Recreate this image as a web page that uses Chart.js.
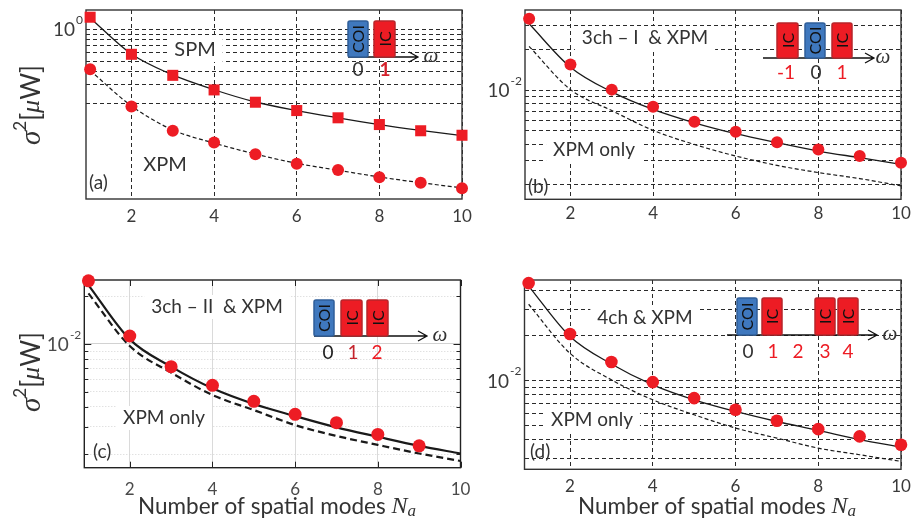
<!DOCTYPE html>
<html lang="en">
<head>
  <meta charset="UTF-8" />
  <title>Noise variance vs number of spatial modes</title>
  <script src="https://cdn.jsdelivr.net/npm/chart.js"></script>
  <style>
    html, body { margin: 0; padding: 0; background: #fff; }
    body { width: 912px; height: 525px; position: relative; overflow: hidden; }
    .panel { position: absolute; left: 0; top: 0; width: 912px; height: 525px; }
  </style>
</head>
<body>
  <div class="panel"><canvas id="chartA"></canvas></div>
  <div class="panel"><canvas id="chartB"></canvas></div>
  <div class="panel"><canvas id="chartC"></canvas></div>
  <div class="panel"><canvas id="chartD"></canvas></div>
  <script>
    // x values and ticks
    const modes = [1, 2, 3, 4, 5, 6, 7, 8, 9, 10];
    const xTicks = [2, 4, 6, 8, 10];

    // (a) SPM / XPM
    const spmMarkA = [1.30, 0.582, 0.369, 0.269, 0.206, 0.172, 0.147, 0.127, 0.111, 0.1007];
    const spmLineA = [1.28, 0.585, 0.372, 0.270, 0.207, 0.172, 0.147, 0.127, 0.112, 0.100];
    const xpmMarkA = [0.421, 0.1875, 0.111, 0.0859, 0.0668, 0.0542, 0.0475, 0.0406, 0.0359, 0.032];
    const xpmLineA = [0.410, 0.190, 0.113, 0.0850, 0.0670, 0.0548, 0.0472, 0.0408, 0.0360, 0.0322];
    const gridA = [0.2, 0.3, 0.4, 0.5, 0.6, 0.7, 0.8, 0.9, 1];

    // (b) 3ch-I
    const markB = [0.0338, 0.0155, 0.0101, 0.00754, 0.00585, 0.00493, 0.00413, 0.00365, 0.00326, 0.00291];
    const lineB = [0.0310, 0.0148, 0.00973, 0.00721, 0.00574, 0.00477, 0.00409, 0.00355, 0.00317, 0.00283];
    const xpmLineB = [0.0211, 0.0101, 0.00707, 0.00505, 0.00397, 0.00326, 0.00278, 0.00246, 0.00222, 0.00196];
    const gridB = [0.002, 0.003, 0.004, 0.005, 0.006, 0.007, 0.008, 0.009, 0.01, 0.02, 0.03];

    // (c) 3ch-II
    const markC = [0.0251, 0.01124, 0.00719, 0.00548, 0.00434, 0.00359, 0.00318, 0.00268, 0.00227];
    const lineC = [0.0236, 0.0107, 0.00719, 0.00524, 0.00417, 0.0035, 0.00297, 0.00259, 0.00227, 0.00203];
    const xpmLineC = [0.0209, 0.00971, 0.00659, 0.00476, 0.00382, 0.00307, 0.00262, 0.0023, 0.00203, 0.00182];
    const majorC = [0.01];
    const minorC = [0.002, 0.003, 0.004, 0.005, 0.006, 0.007, 0.008, 0.009, 0.02];

    // (d) 4ch
    const markD = [0.0449, 0.0205, 0.0133, 0.00975, 0.00762, 0.00637, 0.00537, 0.00472, 0.00422, 0.00371];
    const lineD = [0.0429, 0.0197, 0.0129, 0.00935, 0.00742, 0.0062, 0.00531, 0.00463, 0.00401, 0.00358];
    const xpmLineD = [0.0324, 0.0152, 0.0101, 0.00742, 0.00589, 0.0048, 0.00411, 0.00352, 0.00318, 0.00287];
    const gridD = [0.003, 0.004, 0.005, 0.006, 0.007, 0.008, 0.009, 0.01, 0.02, 0.03, 0.04];

    const RED = '#ed1c24';
    const SANS = 'Lato, "Open Sans", sans-serif';
    const SERIF = '"Liberation Serif", "DejaVu Serif", serif';

    const pts = (arr) => arr.map((v, i) => ({ x: modes[i], y: v }));

    function richText(ctx, parts, cx, cy, color) {
      let w = 0;
      parts.forEach(p => { ctx.font = p.f; p.w = ctx.measureText(p.t).width; w += p.w; });
      let x = cx - w / 2;
      ctx.fillStyle = color;
      ctx.textAlign = 'left';
      ctx.textBaseline = 'middle';
      parts.forEach(p => { ctx.font = p.f; ctx.fillText(p.t, x, cy + (p.dy || 0)); x += p.w; });
    }

    const panelPlugin = {
      id: 'panel',
      beforeDatasetsDraw(chart, args, o) {
        const ctx = chart.ctx, a = chart.chartArea;
        ctx.save();
        // notes, with white background over the grid
        (o.notes || []).forEach(n => {
          ctx.font = n.font || ('19px ' + SANS);
          const w = ctx.measureText(n.text).width;
          const left = n.align === 'left' ? n.x : n.x - w / 2;
          if (n.bg) {
            ctx.fillStyle = '#fff';
            ctx.fillRect(left - 7, n.y - 12, w + 14, 24);
          }
          ctx.fillStyle = '#333';
          ctx.textAlign = 'left';
          ctx.textBaseline = 'middle';
          ctx.fillText(n.text, left, n.y);
        });
        // inward tick marks
        if (o.ticksIn) {
          const y = chart.scales.y;
          ctx.strokeStyle = '#222';
          ctx.lineWidth = 1;
          ctx.beginPath();
          o.ticksIn.forEach(v => {
            const py = Math.round(y.getPixelForValue(v)) + 0.5;
            const len = majorC.includes(v) ? 7 : 4;
            ctx.moveTo(a.left, py); ctx.lineTo(a.left + len, py);
            ctx.moveTo(a.right, py); ctx.lineTo(a.right - len, py);
          });
          xTicks.forEach(v => {
            const px = Math.round(chart.scales.x.getPixelForValue(v)) + 0.5;
            ctx.moveTo(px, a.bottom); ctx.lineTo(px, a.bottom - 6);
            ctx.moveTo(px, a.top); ctx.lineTo(px, a.top + 6);
          });
          ctx.stroke();
        }
        // box frame
        ctx.strokeStyle = o.frameColor || '#333';
        ctx.lineWidth = 1.4;
        ctx.strokeRect(a.left, a.top, a.right - a.left, a.bottom - a.top);
        ctx.restore();
      },
      afterDraw(chart, args, o) {
        const ctx = chart.ctx, a = chart.chartArea;
        ctx.save();
        // x tick labels
        ctx.fillStyle = o.tickColor || '#3a3a3a';
        ctx.font = '17px ' + SANS;
        ctx.textAlign = 'center';
        ctx.textBaseline = 'middle';
        xTicks.forEach(v => ctx.fillText(String(v), chart.scales.x.getPixelForValue(v), a.bottom + o.tickDy));
        // decade label on y
        const py = chart.scales.y.getPixelForValue(o.decade);
        ctx.font = '12px ' + SANS;
        const ew = ctx.measureText(o.exp).width;
        ctx.textAlign = 'right';
        ctx.fillText(o.exp, a.left - 3, py - 9);
        ctx.font = '19px ' + SANS;
        ctx.fillText('10', a.left - 4 - ew, py + 1);

        // axis titles
        if (o.yTitle) {
          ctx.save();
          ctx.translate(o.yTitle[0], o.yTitle[1]);
          ctx.rotate(-Math.PI / 2);
          richText(ctx, [
            { t: 'σ', f: 'italic 29px ' + SERIF },
            { t: '2', f: '17px ' + SANS, dy: -11 },
            { t: '[', f: '26px ' + SANS },
            { t: 'μ', f: 'italic 26px ' + SERIF },
            { t: 'W]', f: '26px ' + SANS }
          ], 0, 0, '#333');
          ctx.restore();
        }
        if (o.xTitle) {
          richText(ctx, [
            { t: 'Number of spatial modes ', f: '22.5px ' + SANS },
            { t: 'N', f: 'italic 24px ' + SERIF },
            { t: 'a', f: 'italic 17px ' + SERIF, dy: 5 }
          ], o.xTitle[0], o.xTitle[1], '#333');
        }

        // channel inset
        const ins = o.inset;
        if (ins) {
          ctx.strokeStyle = '#111';
          ctx.lineWidth = 1.3;
          ctx.beginPath();
          ctx.moveTo(ins.from, ins.bottom);
          ctx.lineTo(ins.to, ins.bottom);
          ctx.moveTo(ins.to - 9, ins.bottom - 5);
          ctx.lineTo(ins.to, ins.bottom);
          ctx.lineTo(ins.to - 9, ins.bottom + 5);
          ctx.stroke();
          ins.boxes.forEach(b => {
            const coi = b.t === 'COI';
            ctx.fillStyle = coi ? '#3f78be' : '#ed1c24';
            ctx.strokeStyle = coi ? '#2f5e99' : '#b8242a';
            ctx.lineWidth = 1.5;
            ctx.beginPath();
            ctx.roundRect(b.x, ins.top, b.w, ins.bottom - ins.top, 2);
            ctx.fill();
            ctx.stroke();
            ctx.save();
            ctx.translate(b.x + b.w / 2, (ins.top + ins.bottom) / 2);
            ctx.rotate(-Math.PI / 2);
            ctx.fillStyle = '#111';
            ctx.font = '16px ' + SANS;
            ctx.textAlign = 'center';
            ctx.textBaseline = 'middle';
            ctx.fillText(b.t, 0, 1);
            ctx.restore();
          });
          ctx.fillStyle = '#333';
          ctx.font = 'italic 21px ' + SERIF;
          ctx.textAlign = 'center';
          ctx.textBaseline = 'middle';
          ctx.fillText('ω', ins.omega, ins.bottom - 1);
          ins.labels.forEach(l => {
            ctx.fillStyle = l.c;
            ctx.font = (l.bold ? 'bold ' : '') + '19px ' + SANS;
            ctx.fillText(l.t, l.x, ins.labelY);
          });
        }
        ctx.restore();
      }
    };

    function xScale(gridColor, dash) {
      return {
        type: 'linear', min: 0.9, max: 10,
        afterBuildTicks: s => { s.ticks = xTicks.map(v => ({ value: v })); },
        afterFit: s => { s.height = 0; },
        ticks: { display: false },
        grid: { color: gridColor, lineWidth: 1, drawTicks: false },
        border: { display: false, dash: dash }
      };
    }

    function yScale(min, max, grid, gridColor, dash, position) {
      return {
        type: 'logarithmic', min: min, max: max, position: position || 'left',
        afterBuildTicks: s => { s.ticks = grid.map(v => ({ value: v })); },
        afterFit: s => { s.width = 0; },
        ticks: { display: false },
        grid: { color: gridColor, lineWidth: 1, drawTicks: false },
        border: { display: false, dash: dash }
      };
    }

    function markSet(values, style, radius) {
      return {
        data: pts(values), showLine: false, pointStyle: style, pointRadius: radius,
        pointBackgroundColor: RED, pointBorderWidth: 0, order: 0, clip: false
      };
    }

    function lineSet(values, width, dash) {
      return {
        data: pts(values), pointRadius: 0, borderColor: '#1a1a1a', borderWidth: width,
        borderDash: dash || [], cubicInterpolationMode: 'monotone', order: 1, clip: false
      };
    }

    function makeChart(id, area, datasets, scales, panel) {
      return new Chart(document.getElementById(id), {
        type: 'line',
        data: { datasets: datasets },
        options: {
          responsive: true,
          maintainAspectRatio: false,
          animation: false,
          events: [],
          layout: { padding: { left: area[0], top: area[1], right: 912 - area[2], bottom: 525 - area[3] } },
          scales: scales,
          plugins: { legend: { display: false }, tooltip: { enabled: false }, panel: panel }
        },
        plugins: [panelPlugin]
      });
    }

    const DASH = [4, 3];
    const LABEL = '19px ' + SANS;

    makeChart('chartA', [86, 10, 462, 199],
      [markSet(spmMarkA, 'rect', 7.8), markSet(xpmMarkA, 'circle', 6),
       lineSet(spmLineA, 1.3), lineSet(xpmLineA, 1.2, [4, 2.5])],
      { x: xScale('#2a2a2a', DASH), y: yScale(0.0253, 1.52, gridA, '#2a2a2a', DASH) },
      {
        tickDy: 17.5, decade: 1, exp: '0', yTitle: [32, 105],
        notes: [
          { text: 'SPM', x: 195, y: 50, bg: true, font: '20px ' + SANS },
          { text: 'XPM', x: 165, y: 165, bg: true, font: '20px ' + SANS },
          { text: '(a)', x: 89, y: 183, align: 'left', font: LABEL }
        ],
        inset: {
          top: 21, bottom: 57, from: 348, to: 418, omega: 431, labelY: 70,
          boxes: [{ t: 'COI', x: 348, w: 20 }, { t: 'IC', x: 374, w: 21 }],
          labels: [{ t: '0', x: 358, c: '#333' }, { t: '1', x: 385, c: '#d4202a', bold: true }]
        }
      });

    makeChart('chartB', [525, 10, 901, 199.3],
      [markSet(markB, 'circle', 6), lineSet(lineB, 1.3), lineSet(xpmLineB, 1.2, [4, 2.5])],
      { x: xScale('#2a2a2a', DASH), y: yScale(0.00156, 0.0392, gridB, '#2a2a2a', DASH) },
      {
        tickDy: 14.5, decade: 0.01, exp: '-2',
        notes: [
          { text: '3ch – I  & XPM', x: 645, y: 38, bg: true },
          { text: 'XPM only', x: 594, y: 150, bg: true },
          { text: '(b)', x: 528, y: 187, align: 'left', font: LABEL }
        ],
        inset: {
          top: 23, bottom: 58, from: 763, to: 874, omega: 883, labelY: 73,
          boxes: [{ t: 'IC', x: 777, w: 21 }, { t: 'COI', x: 805, w: 20 }, { t: 'IC', x: 832, w: 20 }],
          labels: [{ t: '-1', x: 786, c: RED }, { t: '0', x: 816, c: '#333' }, { t: '1', x: 842, c: RED }]
        }
      });

    makeChart('chartC', [84.3, 280, 460.5, 467.7],
      [markSet(markC, 'circle', 6.5), lineSet(lineC, 2.2), lineSet(xpmLineC, 2.2, [7, 4])],
      {
        x: xScale((c) => c.tick && c.tick.value === 10 ? 'rgba(0,0,0,0)' : '#dadada', []),
        y: yScale(0.00165, 0.0254, majorC, '#d2d2d2', []),
        y2: yScale(0.00165, 0.0254, minorC, '#d4d4d4', [1, 2], 'right')
      },
      {
        tickDy: 22, decade: 0.01, exp: '-2', frameColor: '#222', tickColor: '#4a4a4a',
        yTitle: [32, 372], xTitle: [277, 507], ticksIn: majorC.concat(minorC),
        notes: [
          { text: '3ch – II  & XPM', x: 217, y: 307, bg: true },
          { text: 'XPM only', x: 164, y: 418, bg: true },
          { text: '(c)', x: 93, y: 452, align: 'left', font: LABEL }
        ],
        inset: {
          top: 300, bottom: 336, from: 314, to: 427, omega: 440, labelY: 353,
          boxes: [{ t: 'COI', x: 314, w: 20 }, { t: 'IC', x: 341, w: 21 }, { t: 'IC', x: 367, w: 21 }],
          labels: [{ t: '0', x: 328, c: '#222' }, { t: '1', x: 353, c: '#c4232b' }, { t: '2', x: 377, c: RED }]
        }
      });

    makeChart('chartD', [524.5, 280, 901, 469.3],
      [markSet(markD, 'circle', 6.3), lineSet(lineD, 1.3), lineSet(xpmLineD, 1.2, [4, 2.5])],
      { x: xScale('#2a2a2a', DASH), y: yScale(0.00254, 0.0471, gridD, '#2a2a2a', DASH) },
      {
        tickDy: 17.5, decade: 0.01, exp: '-2', xTitle: [717, 507],
        notes: [
          { text: '4ch & XPM', x: 645, y: 318, bg: true },
          { text: 'XPM only', x: 592, y: 420, bg: true },
          { text: '(d)', x: 530, y: 452, align: 'left', font: LABEL }
        ],
        inset: {
          top: 298, bottom: 335, from: 727, to: 877, omega: 890, labelY: 352,
          boxes: [{ t: 'COI', x: 737, w: 20 }, { t: 'IC', x: 762, w: 20 }, { t: 'IC', x: 815, w: 20 }, { t: 'IC', x: 838, w: 20 }],
          labels: [{ t: '0', x: 748, c: '#333' }, { t: '1', x: 773, c: RED }, { t: '2', x: 798, c: RED },
                   { t: '3', x: 825, c: RED }, { t: '4', x: 848, c: RED }]
        }
      });
  </script>
</body>
</html>
